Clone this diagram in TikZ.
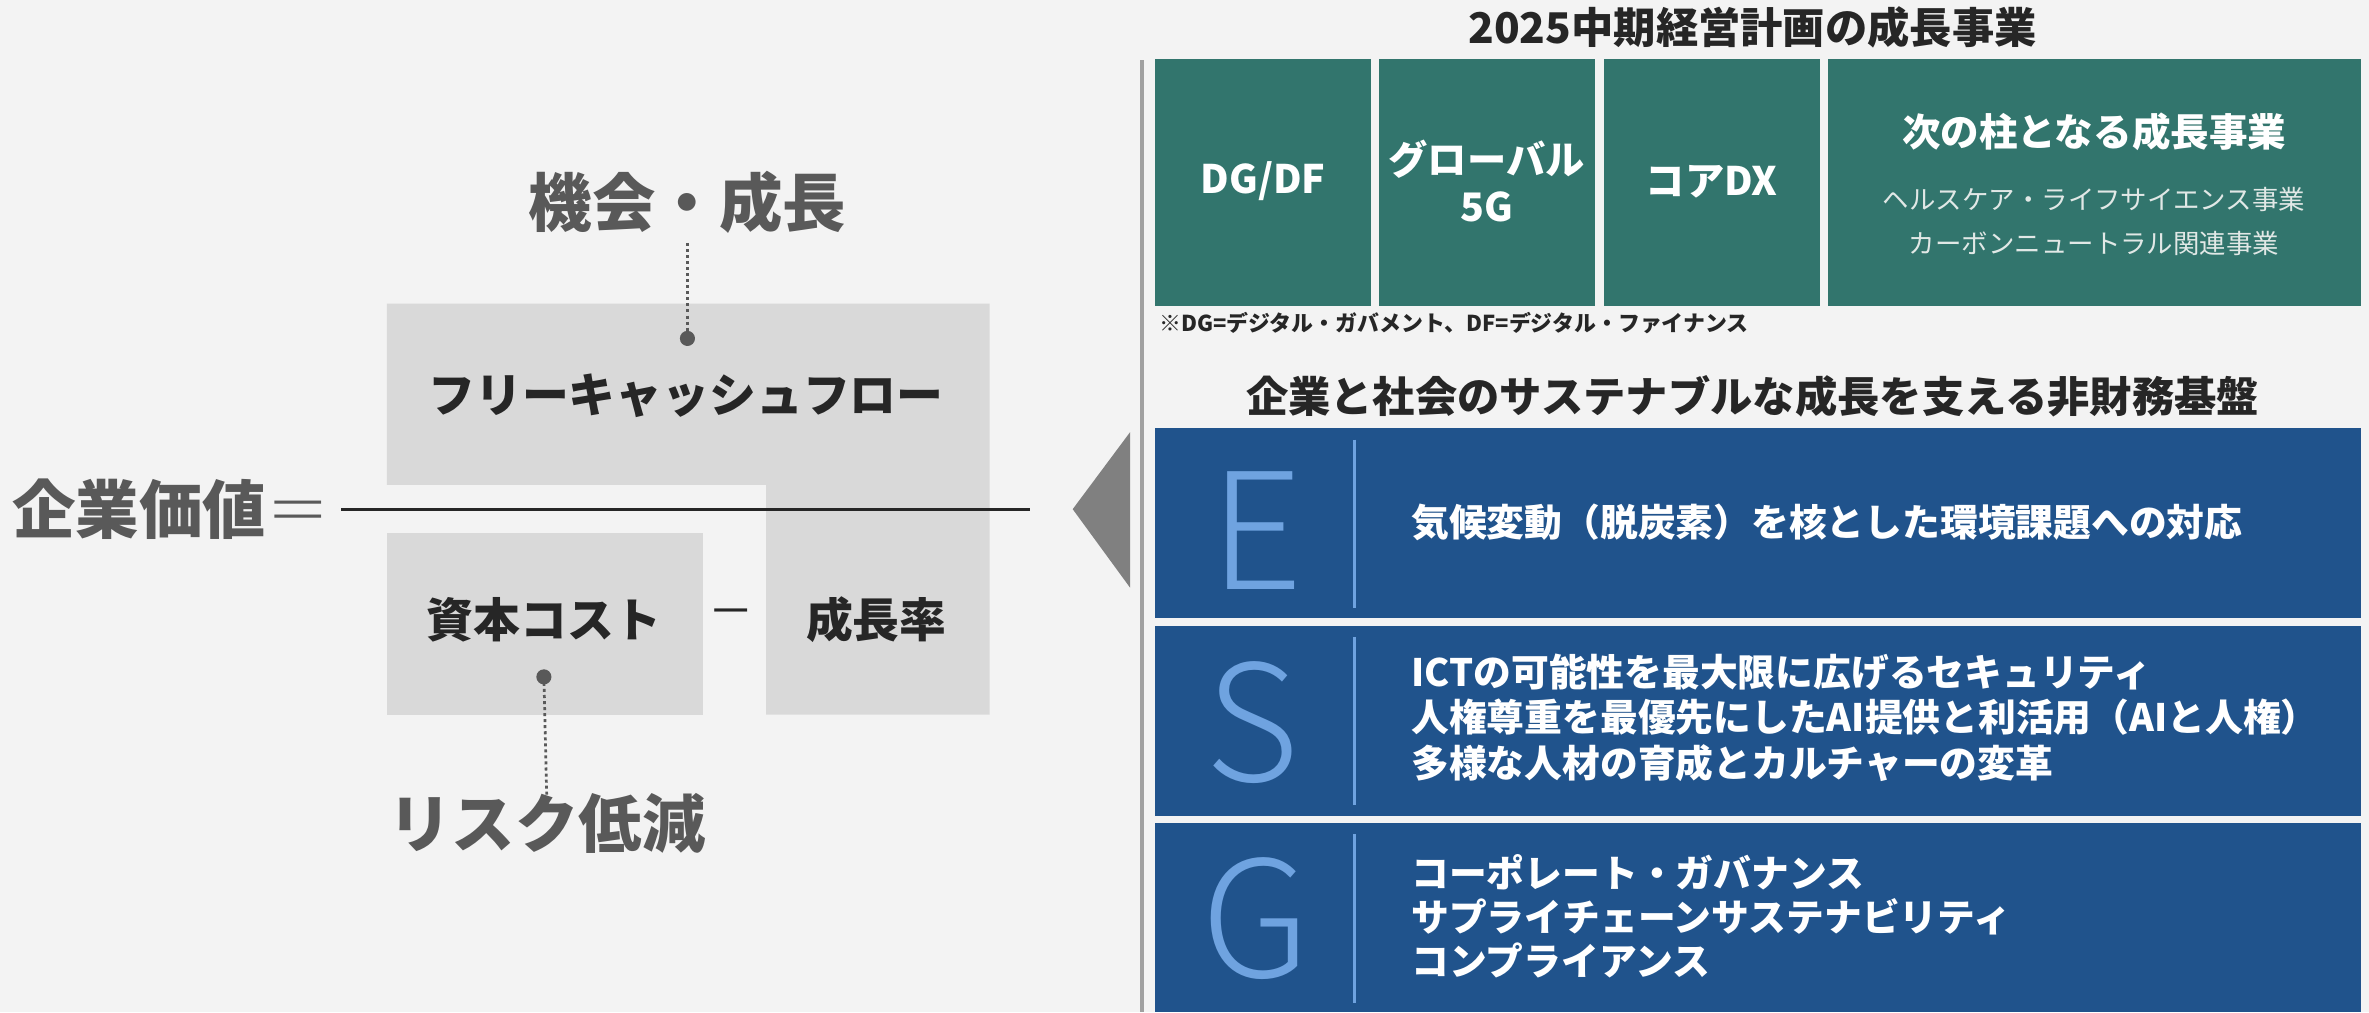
\documentclass[tikz,border=0pt]{standalone}
\usepackage{fontspec}
\setmainfont{Noto Sans CJK JP}
\IfFontExistsTF{Noto Sans CJK JP Light}{\newfontfamily\esgfont{Noto Sans CJK JP Light}}{\newfontfamily\esgfont{Noto Sans CJK JP}}
\definecolor{bgc}{RGB}{243,243,243}
\definecolor{boxgray}{RGB}{217,217,217}
\definecolor{labgray}{RGB}{89,89,89}
\definecolor{darktxt}{RGB}{38,38,38}
\definecolor{greenbox}{RGB}{50,117,109}
\definecolor{bluebox}{RGB}{32,83,140}
\definecolor{lightblue}{RGB}{111,163,224}
\definecolor{trigray}{RGB}{128,128,128}
\definecolor{vlinegray}{RGB}{160,160,160}
\definecolor{subwhite}{RGB}{225,232,230}
\tikzset{
  biglabel/.style={font=\fontsize{42}{48}\selectfont\bfseries, text=labgray, inner sep=0pt},
  boxtxt/.style={font=\fontsize{31}{36}\selectfont\bfseries, text=darktxt, inner sep=0pt},
  sectitle/.style={font=\fontsize{28}{32}\selectfont\bfseries, text=darktxt, inner sep=0pt},
  greentxt/.style={font=\fontsize{26}{31}\selectfont\bfseries, text=white, inner sep=0pt, align=center},
  greensub/.style={font=\fontsize{17.5}{20}\selectfont, text=subwhite, inner sep=0pt},
  esgletter/.style={font=\fontsize{107}{110}\esgfont\mdseries\selectfont, text=lightblue, inner sep=0pt},
  esgtxt/.style={font=\fontsize{25}{30}\selectfont\bfseries, text=white, inner sep=0pt, align=left, anchor=west},
  dotline/.style={draw=labgray, line width=1.8pt, dash pattern=on 2pt off 2pt},
  dotc/.style={fill=labgray},
  divider/.style={draw=lightblue, line width=2pt}
}
\begin{document}
\begin{tikzpicture}[x=1pt,y=-1pt]
\fill[bgc] (0,0) rectangle (1568,670);
\useasboundingbox (0,0) rectangle (1568,670);
% left diagram shapes
\fill[boxgray] (256,201) -- (655,201) -- (655,473) -- (507,473) -- (507,321) -- (256,321) -- cycle;
\fill[boxgray] (256,353) rectangle (465,473);
\draw[line width=2pt, darktxt] (226,337) -- (682,337);
% texts
\node[biglabel] (opp) at (455,134) {機会・成長};
\node[boxtxt] (fcf) at (454,262) {フリーキャッシュフロー};
\node[biglabel, anchor=west] (ev) at (8,337) {企業価値{\mdseries\esgfont ＝}};
\node[font=\fontsize{30}{34}\selectfont, text=darktxt, inner sep=0pt] (minus) at (484,409) {－};
\node[boxtxt] (coc) at (360,410) {資本コスト};
\node[boxtxt] (gr) at (580,410) {成長率};
\node[biglabel] (risk) at (362,545) {リスク低減};
\coordinate (oppdot) at (455,224);
\coordinate (riskdot) at (360,448);
\draw[dotline] (opp.south) ++(0,6) -- (oppdot);
\fill[dotc] (oppdot) circle (5);
\draw[dotline] (riskdot) -- ([yshift=-8pt]risk.north);
\fill[dotc] (riskdot) circle (5);
% triangle and vertical line
\fill[trigray] (748,286) -- (710,337) -- (748,389) -- cycle;
\draw[vlinegray, line width=3pt] (756,40) -- (756,670);
% top section
\node[sectitle] (t1) at (1160,18) {2025中期経営計画の成長事業};
\fill[greenbox] (764.6,39.3) rectangle (907.7,202.4);
\fill[greenbox] (912.7,39.3) rectangle (1055.8,202.4);
\fill[greenbox] (1061.9,39.3) rectangle (1204.4,202.4);
\fill[greenbox] (1210,39.3) rectangle (1562.5,202.4);
\node[greentxt] (dg) at (836,120) {DG/DF};
\node[greentxt] (gl) at (984,120) {グローバル\\5G};
\node[greentxt] (cdx) at (1133,120) {コアDX};
\node[greentxt, font=\fontsize{25.5}{30}\selectfont\bfseries] (nxt) at (1386,87) {次の柱となる成長事業};
\node[greensub] (hc) at (1386,132) {ヘルスケア・ライフサイエンス事業};
\node[greensub] (cn) at (1386,161) {カーボンニュートラル関連事業};
\node[font=\fontsize{14.5}{16}\selectfont\bfseries, text=darktxt, inner sep=0pt, anchor=west] (fn) at (767,214) {※DG=デジタル・ガバメント、DF=デジタル・ファイナンス};
% ESG section
\node[sectitle] (t2) at (1160,262) {企業と社会のサステナブルな成長を支える非財務基盤};
\fill[bluebox] (764.6,283.2) rectangle (1562.5,409);
\fill[bluebox] (764.6,414) rectangle (1562.5,540);
\fill[bluebox] (764.6,544.6) rectangle (1562.5,670);
\draw[divider] (896.5,291) -- (896.5,402.5);
\draw[divider] (896.5,421.6) -- (896.5,533);
\draw[divider] (896.5,552) -- (896.5,664);
\node[esgletter] (E) at (832,351) {E};
\node[esgletter] (S) at (829,478) {S};
\node[esgletter] (G) at (831,608) {G};
\node[esgtxt] (et) at (934,346) {気候変動（脱炭素）を核とした環境課題への対応};
\node[esgtxt] (st) at (934,475) {ICTの可能性を最大限に広げるセキュリティ\\人権尊重を最優先にしたAI提供と利活用（AIと人権）\\多様な人材の育成とカルチャーの変革};
\node[esgtxt, font=\fontsize{25}{29.3}\selectfont\bfseries] (gt) at (934,606.5) {コーポレート・ガバナンス\\サプライチェーンサステナビリティ\\コンプライアンス};
\end{tikzpicture}
\end{document}
